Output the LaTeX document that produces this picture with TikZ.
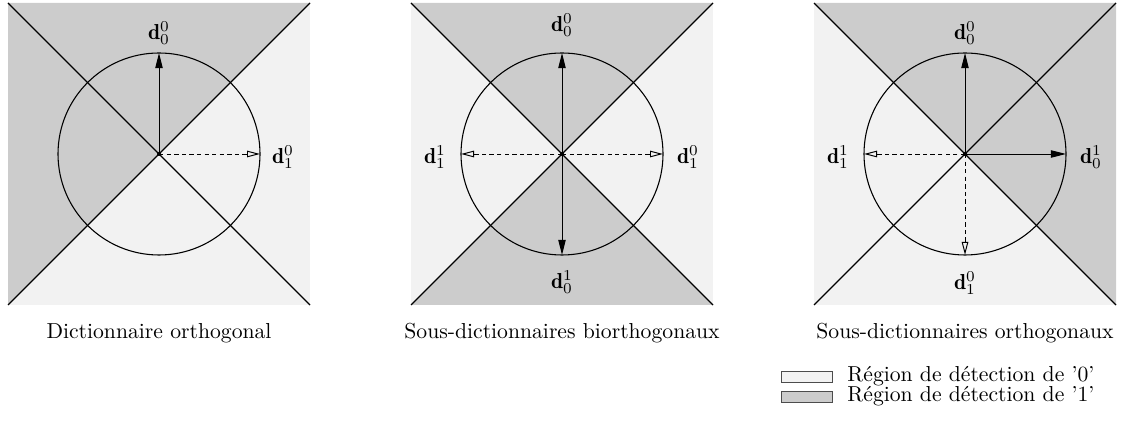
\documentclass[tikz,border=0pt]{standalone}
\usepackage{fontspec}
\usetikzlibrary{arrows.meta}
\definecolor{lightreg}{gray}{0.95}
\definecolor{darkreg}{gray}{0.8}
\begin{document}
\begin{tikzpicture}[x=0.4615pt,y=-0.4615pt,
  diag/.style={line width=0.6pt},
  circ/.style={line width=0.5pt},
  solidarr/.style={line width=0.45pt,-{Triangle[length=7pt,width=3.4pt]}},
  dasharr/.style={line width=0.45pt,dash pattern=on 2pt off 1.5pt,-{Triangle[open,length=6pt,width=3pt]}},
  lab/.style={inner sep=0pt},
  captext/.style={inner sep=0pt},
  legbox/.style={draw=black!70,line width=0.4pt},
  legtext/.style={inner sep=0pt,anchor=west}
]
\useasboundingbox (0,0) rectangle (1121,432);

% ---------- Panel 1 ----------
\fill[lightreg] (8,3) rectangle (310,305);
\fill[darkreg] (8,3) -- (310,3) -- (8,305) -- cycle;
\draw[diag] (8,3) -- (310,305);
\draw[diag] (8,305) -- (310,3);
\coordinate (a0) at (159,154);
\coordinate (aN) at (159,53);
\coordinate (aE) at (260,154);
\draw[circ] (a0) circle[radius=101];
\draw[solidarr] (a0) -- (aN);
\draw[dasharr] (a0) -- (aE);
\fill (a0) circle[radius=2];
\node[lab] (aLN) at (159,33) {$\mathbf{d}_0^0$};
\node[lab] (aLE) at (283,157) {$\mathbf{d}_1^0$};
\node[captext] (cap1) at (159,333) {Dictionnaire orthogonal};

% ---------- Panel 2 ----------
\fill[lightreg] (411,3) rectangle (713,305);
\fill[darkreg] (411,3) -- (713,3) -- (562,154) -- cycle;
\fill[darkreg] (411,305) -- (713,305) -- (562,154) -- cycle;
\draw[diag] (411,3) -- (713,305);
\draw[diag] (411,305) -- (713,3);
\coordinate (b0) at (562,154);
\coordinate (bN) at (562,53);
\coordinate (bS) at (562,255);
\coordinate (bE) at (663,154);
\coordinate (bW) at (461,154);
\draw[circ] (b0) circle[radius=101];
\draw[solidarr] (b0) -- (bN);
\draw[solidarr] (b0) -- (bS);
\draw[dasharr] (b0) -- (bE);
\draw[dasharr] (b0) -- (bW);
\fill (b0) circle[radius=2];
\node[lab] (bLN) at (562,25) {$\mathbf{d}_0^0$};
\node[lab] (bLS) at (562,282) {$\mathbf{d}_0^1$};
\node[lab] (bLE) at (688,157) {$\mathbf{d}_1^0$};
\node[lab] (bLW) at (435,157) {$\mathbf{d}_1^1$};
\node[captext] (cap2) at (562,333) {Sous-dictionnaires biorthogonaux};

% ---------- Panel 3 ----------
\fill[lightreg] (814,3) rectangle (1116,305);
\fill[darkreg] (814,3) -- (1116,3) -- (1116,305) -- cycle;
\draw[diag] (814,3) -- (1116,305);
\draw[diag] (814,305) -- (1116,3);
\coordinate (c0) at (965,154);
\coordinate (cN) at (965,53);
\coordinate (cS) at (965,255);
\coordinate (cE) at (1066,154);
\coordinate (cW) at (864,154);
\draw[circ] (c0) circle[radius=101];
\draw[solidarr] (c0) -- (cN);
\draw[solidarr] (c0) -- (cE);
\draw[dasharr] (c0) -- (cW);
\draw[dasharr] (c0) -- (cS);
\fill (c0) circle[radius=2];
\node[lab] (cLN) at (965,33) {$\mathbf{d}_0^0$};
\node[lab] (cLE) at (1091,157) {$\mathbf{d}_0^1$};
\node[lab] (cLW) at (838,157) {$\mathbf{d}_1^1$};
\node[lab] (cLS) at (965,283) {$\mathbf{d}_1^0$};
\node[captext] (cap3) at (965,333) {Sous-dictionnaires orthogonaux};

% ---------- Legend ----------
\draw[legbox,fill=lightreg] (781,371) rectangle (832,382);
\draw[legbox,fill=darkreg] (781,391) rectangle (832,402);
\node[legtext] (leg0) at (847,376.5) {Région de détection de '0'};
\node[legtext] (leg1) at (847,396.5) {Région de détection de '1'};
\end{tikzpicture}
\end{document}
